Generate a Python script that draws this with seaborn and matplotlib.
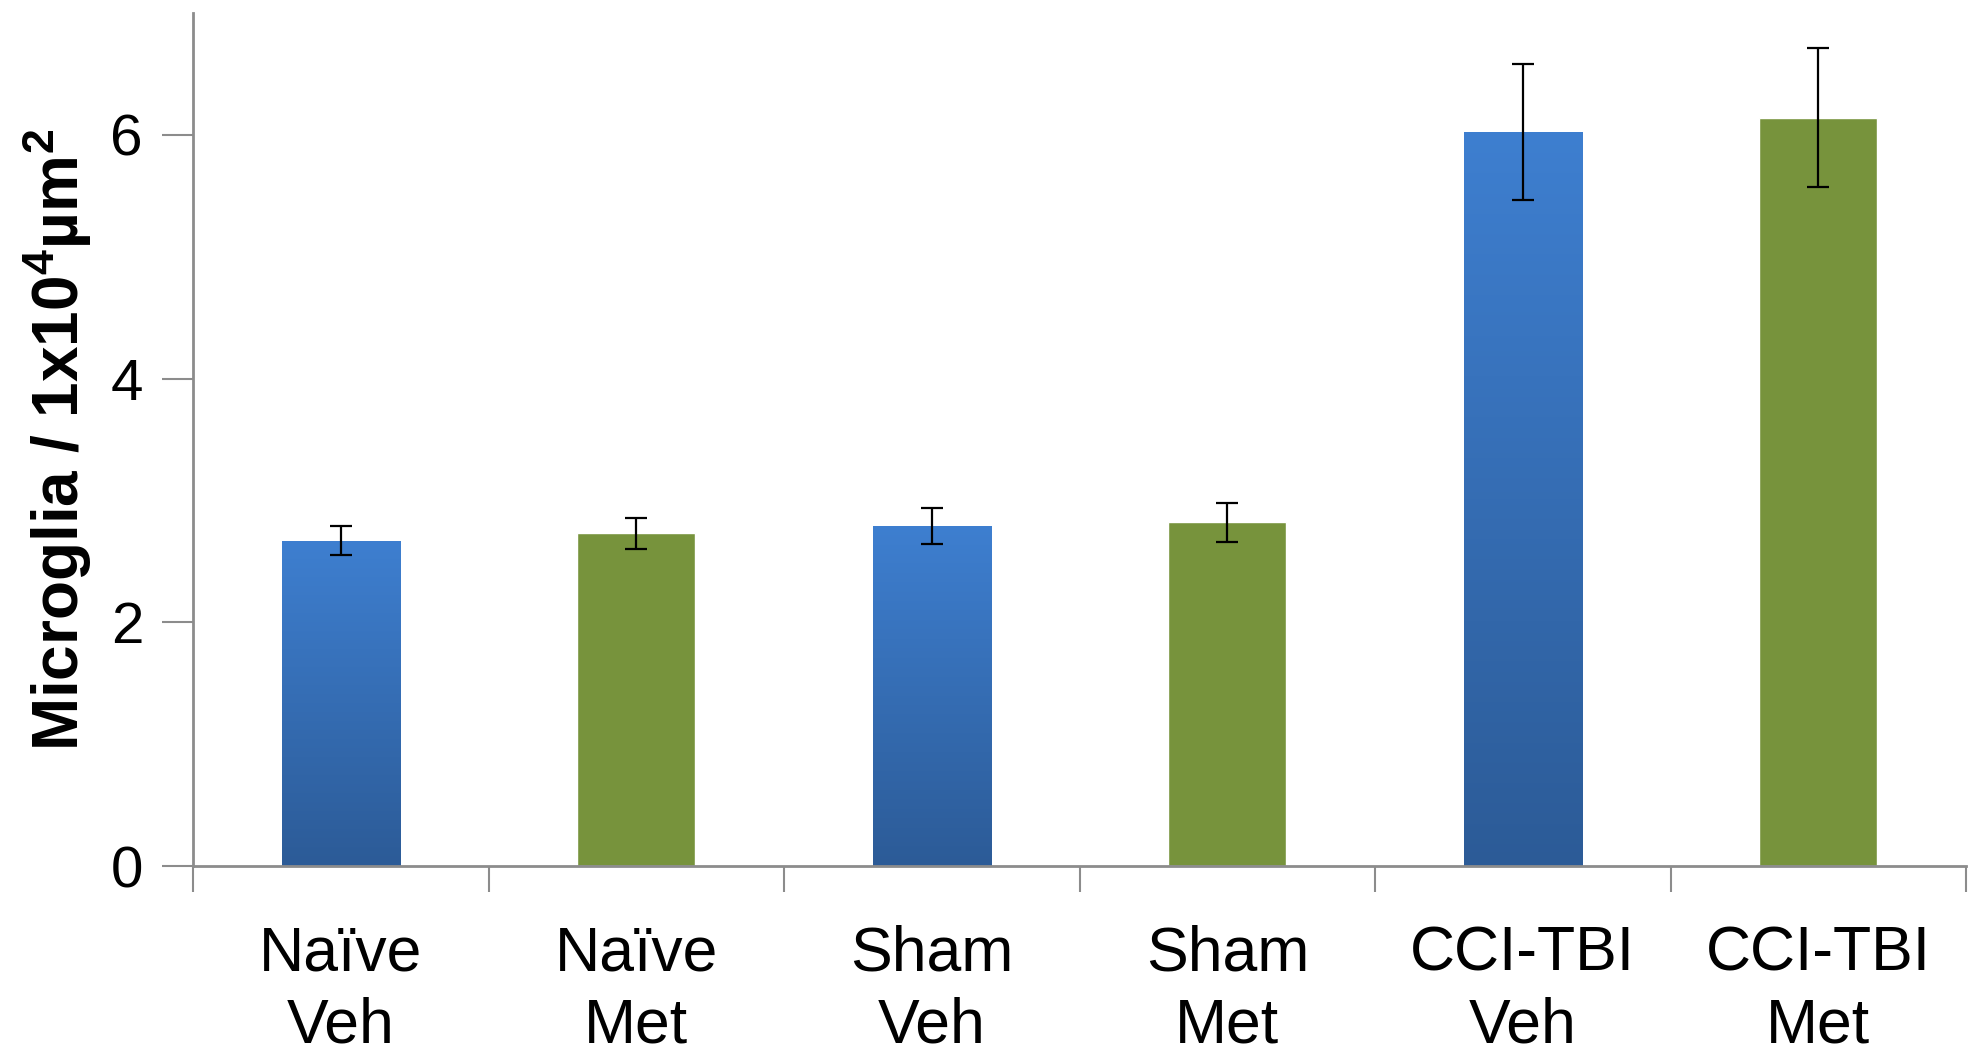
import numpy as np
import matplotlib
matplotlib.use('Agg')
import matplotlib.pyplot as plt
import seaborn as sns

# Values
groups = ['Naïve\nVeh', 'Naïve\nMet', 'Sham\nVeh', 'Sham\nMet', 'CCI-TBI\nVeh', 'CCI-TBI\nMet']
microglia = [2.67, 2.73, 2.79, 2.82, 6.02, 6.14]
sem = [0.12, 0.13, 0.15, 0.16, 0.56, 0.57]
treatment = ['Veh', 'Met', 'Veh', 'Met', 'Veh', 'Met']

blue_top = '#3E7FD0'
blue_bottom = '#2C5B97'
green = '#77933C'

sns.set_style('white')
plt.rcParams['font.family'] = ['Liberation Sans', 'DejaVu Sans']
plt.rcParams['text.color'] = 'black'
plt.rcParams['xtick.color'] = 'black'
plt.rcParams['ytick.color'] = 'black'
plt.rcParams['axes.labelcolor'] = 'black'
plt.rcParams['mathtext.fontset'] = 'custom'
plt.rcParams['mathtext.rm'] = 'Liberation Sans:bold'
plt.rcParams['mathtext.bf'] = 'Liberation Sans:bold'

fig = plt.figure(figsize=(19.8, 10.54), dpi=100)
ax = fig.add_axes([0.0975, 0.178, 0.8955, 0.81])

palette = {'Veh': blue_top, 'Met': green}
sns.barplot(x=groups, y=microglia, hue=treatment, palette=palette, dodge=False,
            width=0.4, legend=False, ax=ax, saturation=1)

# vertical gradient on the Veh (blue) bars
grad = np.linspace(0, 1, 256).reshape(-1, 1)
cmap = matplotlib.colors.LinearSegmentedColormap.from_list('bl', [blue_bottom, blue_top])
for p in ax.patches:
    if p.get_height() > 0 and matplotlib.colors.to_hex(p.get_facecolor()) == blue_top.lower():
        x0, w, h = p.get_x(), p.get_width(), p.get_height()
        im = ax.imshow(grad, cmap=cmap, aspect='auto', origin='lower',
                       extent=[x0, x0 + w, 0, h], zorder=p.get_zorder() + 0.1)
        im.set_clip_path(p)

ax.errorbar(range(len(groups)), microglia, yerr=sem, fmt='none', ecolor='black',
            elinewidth=1.6, capsize=8, capthick=1.6, zorder=5)

ax.set_xlim(-0.5, 5.5)
ax.set_ylim(0, 7)
ax.set_yticks([0, 2, 4, 6])
ax.set_xticks(range(len(groups)))
ax.set_xticklabels(groups, fontsize=45, linespacing=1.28)
ax.set_xticks(np.arange(-0.5, 6, 1), minor=True)
ax.tick_params(axis='x', which='major', bottom=True, length=0, pad=42)
ax.tick_params(axis='x', which='minor', bottom=True, length=19, width=1.5, color='#8c8c8c')
ax.tick_params(axis='y', left=True, labelsize=42, length=22, width=1.5, color='#8c8c8c',
               labelcolor='black', pad=14)

for side in ['top', 'right']:
    ax.spines[side].set_visible(False)
for side in ['left', 'bottom']:
    ax.spines[side].set_color('#8c8c8c')
    ax.spines[side].set_linewidth(2)

ax.set_ylabel('Microglia / 1x10$^{4}$µm$^{2}$', fontsize=46, fontweight='bold', labelpad=12)

plt.savefig('out.png', dpi=100)
